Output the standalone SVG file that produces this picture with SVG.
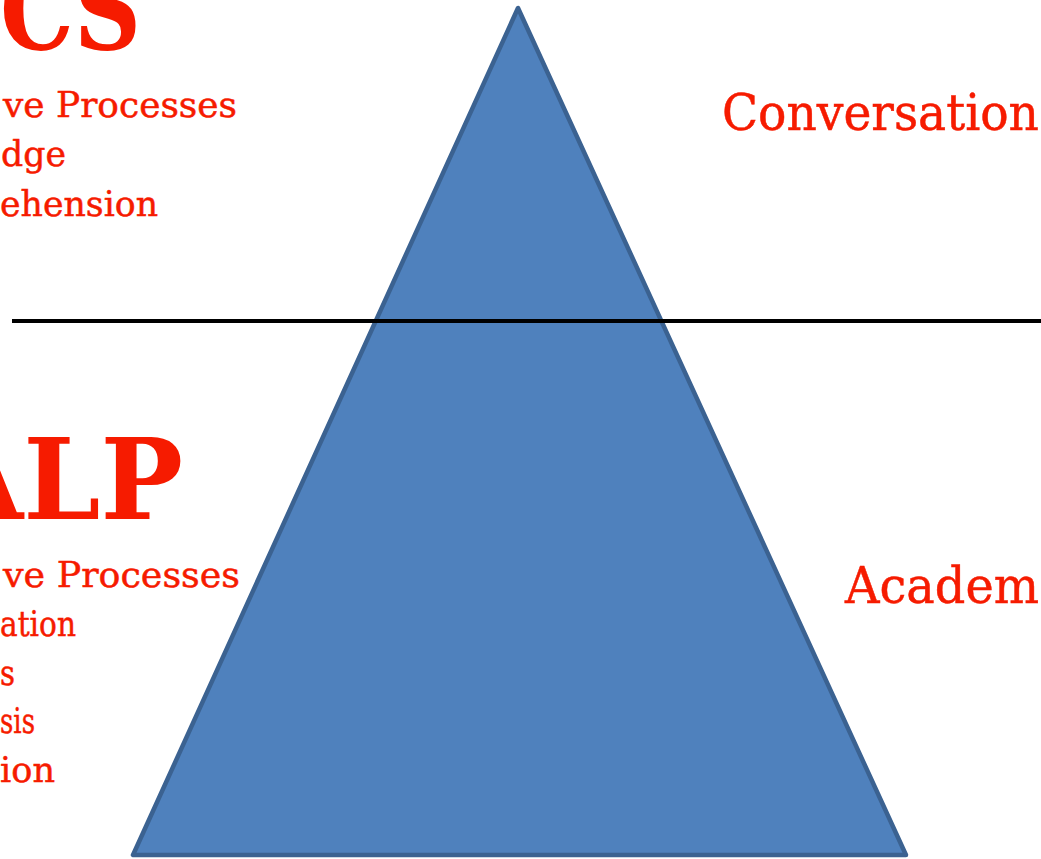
<svg xmlns="http://www.w3.org/2000/svg" width="1041" height="859" viewBox="0 0 1041 859">
<style>
.t{font-family:"DejaVu Serif","Liberation Serif",serif;fill:#f61b00}
.b{font-size:36px;stroke:#f61b00;stroke-width:0.5}
.h{font-size:112px;font-weight:bold}
.r{font-size:50px;stroke:#f61b00;stroke-width:0.5}
</style>
<rect width="1041" height="859" fill="#ffffff"/>
<g id="iceberg">
<polygon points="518,8 133,855 906,855" fill="#4f81bd" stroke="#3b6291" stroke-width="4.5" stroke-linejoin="round"/>
</g>
<g id="waterline">
<line x1="12" y1="321" x2="1041" y2="321" stroke="#000000" stroke-width="4"/>
</g>
<g id="bics">
<text class="t h" x="0" y="49" textLength="141" lengthAdjust="spacingAndGlyphs">CS</text>
<text class="t b" x="3" y="117" textLength="234" lengthAdjust="spacingAndGlyphs">ve Processes</text>
<text class="t b" x="1" y="166" textLength="65" lengthAdjust="spacingAndGlyphs">dge</text>
<text class="t b" x="0" y="216" textLength="158" lengthAdjust="spacingAndGlyphs">ehension</text>
</g>
<g id="calp">
<text class="t h" x="-62" y="519" textLength="245" lengthAdjust="spacingAndGlyphs">ALP</text>
<text class="t b" x="3" y="587" textLength="237" lengthAdjust="spacingAndGlyphs">ve Processes</text>
<text class="t b" x="0" y="636" textLength="76" lengthAdjust="spacingAndGlyphs">ation</text>
<text class="t b" x="0" y="685" textLength="15" lengthAdjust="spacingAndGlyphs">s</text>
<text class="t b" x="0" y="733" textLength="35" lengthAdjust="spacingAndGlyphs">sis</text>
<text class="t b" x="0" y="782" textLength="55" lengthAdjust="spacingAndGlyphs">ion</text>
</g>
<g id="labels">
<text class="t r" x="722" y="130" textLength="317" lengthAdjust="spacingAndGlyphs">Conversation</text>
<text class="t r" x="845" y="603" textLength="194" lengthAdjust="spacingAndGlyphs">Academ</text>
</g>
</svg>
